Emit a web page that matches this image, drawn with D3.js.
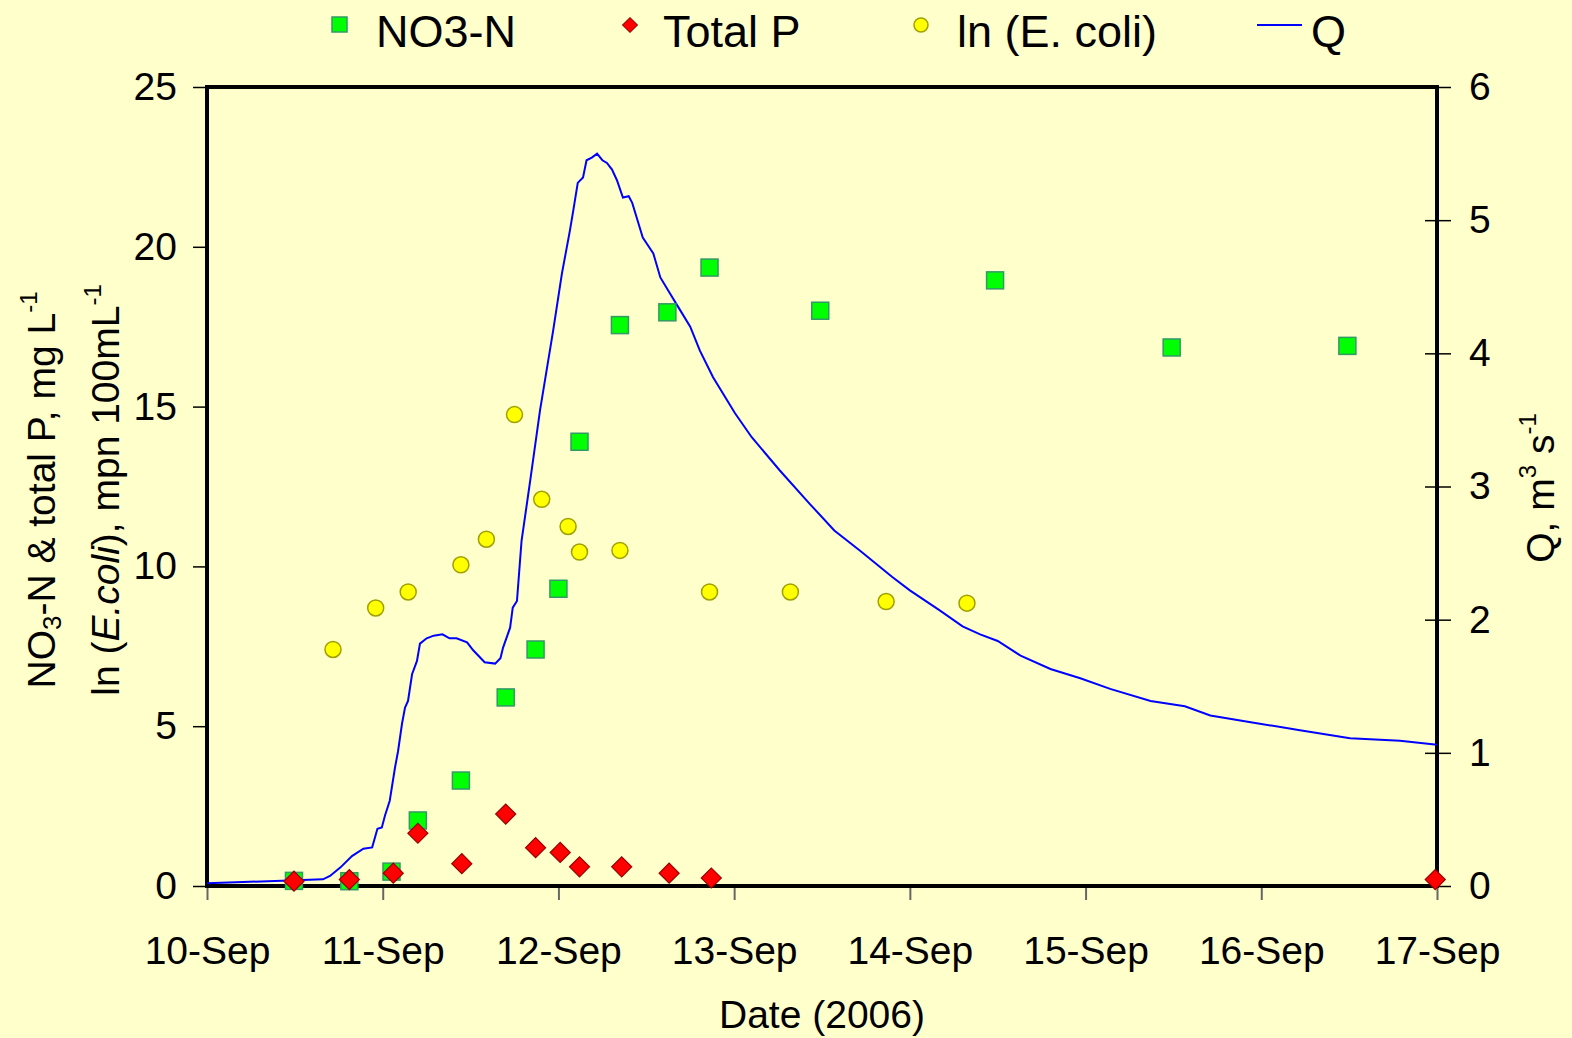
<!DOCTYPE html>
<html lang="en">
<head>
<meta charset="utf-8">
<title>NO3-N, Total P, E. coli and Q</title>
<script src="https://d3js.org/d3.v7.min.js"></script>
<style>
  html, body { margin: 0; padding: 0; background: #ffffcc; }
  svg { display: block; font-family: "Liberation Sans", Arial, sans-serif; }
  .tick text { font-size: 39px; fill: #000; }
  .axis-title { font-size: 39px; fill: #000; }
  .legend text { font-size: 45px; fill: #000; }
</style>
</head>
<body>
<div id="chart"></div>
<script>
// days after 10-Sep-2006 00:00
var no3Day = [0.495, 0.81, 1.05, 1.20, 1.445, 1.70, 1.87, 2.0, 2.12, 2.35, 2.62, 2.86, 3.49, 4.485, 5.49, 6.49];
var no3Val = [0.16, 0.15, 0.45, 2.05, 3.3, 5.9, 7.4, 9.3, 13.9, 17.55, 17.95, 19.35, 18.0, 18.95, 16.85, 16.9];

var tpDay = [0.495, 0.81, 1.06, 1.20, 1.45, 1.70, 1.87, 2.01, 2.12, 2.36, 2.63, 2.87, 6.99];
var tpVal = [0.15, 0.2, 0.4, 1.65, 0.7, 2.25, 1.2, 1.05, 0.6, 0.6, 0.4, 0.25, 0.2];

var ecoliDay = [0.717, 0.96, 1.145, 1.445, 1.59, 1.75, 1.905, 2.055, 2.12, 2.35, 2.86, 3.32, 3.865, 4.325];
var ecoliVal = [7.4, 8.7, 9.2, 10.05, 10.85, 14.75, 12.1, 11.25, 10.45, 10.5, 9.2, 9.2, 8.9, 8.85];

var qDay = [0, 0.205, 0.427, 0.66, 0.70, 0.76, 0.825, 0.89, 0.94, 0.97, 0.995, 1.013, 1.04, 1.07,
  1.087, 1.11, 1.127, 1.144, 1.167, 1.195, 1.212, 1.25, 1.29, 1.34, 1.38, 1.42, 1.48, 1.515,
  1.58, 1.64, 1.67, 1.685, 1.725, 1.74, 1.764, 1.79, 1.84, 1.895, 1.97, 2.02,
  2.065, 2.083, 2.11, 2.14, 2.16, 2.19, 2.22, 2.25, 2.276, 2.305, 2.333, 2.367, 2.40, 2.42,
  2.45, 2.48, 2.51, 2.54, 2.58, 2.635, 2.69, 2.75, 2.805, 2.88, 3.005, 3.10, 3.26, 3.43, 3.57,
  3.715, 3.90, 4.0, 4.17, 4.30, 4.40, 4.50, 4.63, 4.80, 4.97, 5.14, 5.37, 5.565,
  5.71, 5.94, 6.22, 6.505, 6.79, 7.0];
var qVal = [0.02, 0.03, 0.04, 0.05, 0.075, 0.14, 0.225, 0.28, 0.29, 0.43, 0.44, 0.53, 0.64, 0.89,
  1.01, 1.22, 1.34, 1.39, 1.59, 1.69, 1.82, 1.86, 1.88, 1.89, 1.86, 1.86, 1.83, 1.77,
  1.68, 1.67, 1.71, 1.79, 1.94, 2.09, 2.14, 2.59, 3.05, 3.57, 4.17, 4.6,
  4.92, 5.06, 5.28, 5.32, 5.45, 5.47, 5.50, 5.45, 5.43, 5.38, 5.30, 5.17, 5.18, 5.13,
  5.0, 4.87, 4.81, 4.75, 4.57, 4.45, 4.33, 4.2, 4.02, 3.82, 3.55, 3.37, 3.12, 2.87, 2.67,
  2.52, 2.32, 2.22, 2.07, 1.95, 1.89, 1.84, 1.73, 1.63, 1.56, 1.48, 1.39, 1.35,
  1.28, 1.23, 1.17, 1.11, 1.09, 1.06];

var leftTicks = [0, 5, 10, 15, 20, 25];
var rightTicks = [0, 1, 2, 3, 4, 5, 6];

var margin = {top: 87, right: 135, bottom: 152, left: 207},
    W = 1572, H = 1038,
    width = W - margin.left - margin.right,
    height = H - margin.top - margin.bottom;

var start = new Date(2006, 8, 10);
function toDate(d) { return new Date(start.getTime() + d * 864e5); }

var svg = d3.select("#chart").append("svg")
    .attr("width", W).attr("height", H);
svg.append("rect").attr("width", W).attr("height", H).attr("fill", "#ffffcc");

var g = svg.append("g").attr("transform", "translate(" + margin.left + "," + margin.top + ")");

var x = d3.scaleTime().domain([start, toDate(7)]).range([0, width]);
var y = d3.scaleLinear().domain([0, 25]).range([height, 0]);
var y2 = d3.scaleLinear().domain([0, 6]).range([height, 0]);

// axes
var xAxis = g.append("g").attr("transform", "translate(0," + height + ")")
  .call(d3.axisBottom(x).ticks(d3.timeDay.every(1)).tickFormat(d3.timeFormat("%d-%b")).tickSize(14).tickPadding(36));
xAxis.select(".domain").remove();
xAxis.selectAll(".tick line").attr("stroke", "#666").attr("stroke-width", 2);

var yAxis = g.append("g")
  .call(d3.axisLeft(y).tickValues(leftTicks).tickSize(14).tickPadding(16));
yAxis.select(".domain").remove();
yAxis.selectAll(".tick line").attr("stroke", "#000").attr("stroke-width", 1.5);

var y2Axis = g.append("g").attr("transform", "translate(" + width + ",0)")
  .call(d3.axisRight(y2).tickValues(rightTicks).tickFormat(d3.format("d")).tickSize(14).tickPadding(18));
y2Axis.select(".domain").remove();
y2Axis.selectAll(".tick line").attr("x1", -12).attr("stroke", "#000").attr("stroke-width", 1.5);

// frame
g.append("rect").attr("width", width).attr("height", height)
  .attr("fill", "none").attr("stroke", "#000").attr("stroke-width", 4);

// Q line
var line = d3.line()
  .x(function(d, i) { return x(toDate(qDay[i])); })
  .y(function(d, i) { return y2(qVal[i]); });
g.append("path").datum(qVal).attr("d", line)
  .attr("fill", "none").attr("stroke", "#0000ff").attr("stroke-width", 2);

// E. coli circles
g.selectAll(".ecoli").data(ecoliVal).enter().append("circle")
  .attr("cx", function(d, i) { return x(toDate(ecoliDay[i])); })
  .attr("cy", function(d) { return y(d); })
  .attr("r", 8)
  .attr("fill", "#ffff00").attr("stroke", "#a0a000").attr("stroke-width", 1.5);

// NO3-N squares
g.selectAll(".no3").data(no3Val).enter().append("rect")
  .attr("x", function(d, i) { return x(toDate(no3Day[i])) - 8.5; })
  .attr("y", function(d) { return y(d) - 8.5; })
  .attr("width", 17).attr("height", 17)
  .attr("fill", "#00ff00").attr("stroke", "#339966").attr("stroke-width", 1.5);

// Total P diamonds
var dia = d3.symbol().type(d3.symbolSquare).size(200);
g.selectAll(".tp").data(tpVal).enter().append("path")
  .attr("d", dia)
  .attr("transform", function(d, i) {
    return "translate(" + x(toDate(tpDay[i])) + "," + y(d) + ") rotate(45)";
  })
  .attr("fill", "#ff0000").attr("stroke", "#990000").attr("stroke-width", 1.2);

// axis titles
svg.append("text").attr("class", "axis-title")
  .attr("text-anchor", "middle")
  .attr("x", 822).attr("y", 1028)
  .text("Date (2006)");

var t1 = svg.append("text").attr("class", "axis-title")
  .attr("text-anchor", "middle")
  .attr("transform", "translate(55,490) rotate(-90)");
t1.append("tspan").text("NO");
t1.append("tspan").attr("font-size", "26px").attr("dy", 6).text("3");
t1.append("tspan").attr("dy", -6).text("-N & total P, mg L");
t1.append("tspan").attr("font-size", "24px").attr("dy", -18).text("-1");

var t2 = svg.append("text").attr("class", "axis-title")
  .attr("text-anchor", "middle")
  .attr("transform", "translate(119,490) rotate(-90)");
t2.append("tspan").text("ln (");
t2.append("tspan").attr("font-style", "italic").text("E.coli");
t2.append("tspan").text("), mpn 100mL");
t2.append("tspan").attr("font-size", "24px").attr("dy", -18).text("-1");

var t3 = svg.append("text").attr("class", "axis-title")
  .attr("text-anchor", "middle")
  .attr("transform", "translate(1554,488) rotate(-90)");
t3.append("tspan").text("Q, m");
t3.append("tspan").attr("font-size", "24px").attr("dy", -18).text("3");
t3.append("tspan").attr("dy", 18).text(" s");
t3.append("tspan").attr("font-size", "24px").attr("dy", -18).text("-1");

// legend
var leg = svg.append("g").attr("class", "legend");
leg.append("rect").attr("x", 332).attr("y", 17).attr("width", 15).attr("height", 15)
  .attr("fill", "#00ff00").attr("stroke", "#339966").attr("stroke-width", 1.5);
leg.append("text").attr("x", 376).attr("y", 47).text("NO3-N");
leg.append("path").attr("d", d3.symbol().type(d3.symbolSquare).size(110))
  .attr("transform", "translate(630,25) rotate(45)")
  .attr("fill", "#ff0000").attr("stroke", "#990000");
leg.append("text").attr("x", 663).attr("y", 47).text("Total P");
leg.append("circle").attr("cx", 921).attr("cy", 25).attr("r", 7)
  .attr("fill", "#ffff00").attr("stroke", "#a0a000").attr("stroke-width", 1.5);
leg.append("text").attr("x", 957).attr("y", 47).text("ln (E. coli)");
leg.append("line").attr("x1", 1257).attr("x2", 1302).attr("y1", 25).attr("y2", 25)
  .attr("stroke", "#0000ff").attr("stroke-width", 2);
leg.append("text").attr("x", 1311).attr("y", 47).text("Q");
</script>
</body>
</html>
